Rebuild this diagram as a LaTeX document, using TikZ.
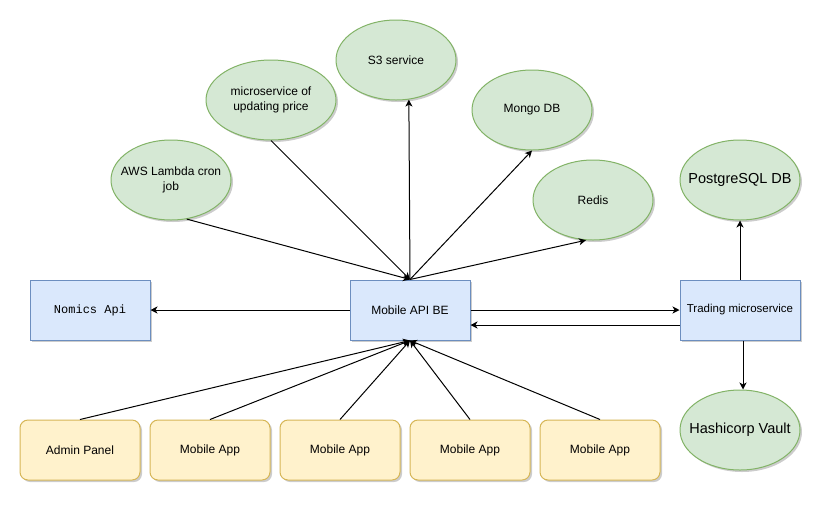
\documentclass[tikz,border=0pt]{standalone}
\usepackage{fontspec}
\setmainfont{Liberation Sans}
\setmonofont{Liberation Mono}
\usetikzlibrary{arrows.meta,shapes.geometric,shadows}

\definecolor{greenfill}{HTML}{D5E8D4}
\definecolor{greenline}{HTML}{82B366}
\definecolor{bluefill}{HTML}{DAE8FC}
\definecolor{blueline}{HTML}{6C8EBF}
\definecolor{yellowfill}{HTML}{FFF2CC}
\definecolor{yellowline}{HTML}{D6B656}

\tikzset{
  shade box/.style={drop shadow={shadow xshift=2pt,shadow yshift=-2pt,opacity=0.2,fill=black}},
  db/.style={ellipse,draw=greenline,fill=greenfill,line width=1pt,minimum width=120pt,
    minimum height=80pt,inner ysep=0pt,inner xsep=-12pt,align=center,
    font=\fontsize{12}{15}\selectfont,shade box},
  svc/.style={rectangle,draw=blueline,fill=bluefill,line width=1pt,minimum width=120pt,
    minimum height=60pt,inner xsep=1pt,font=\fontsize{12}{14}\selectfont,shade box},
  client/.style={rectangle,rounded corners=8pt,draw=yellowline,fill=yellowfill,line width=1pt,
    minimum width=120pt,minimum height=60pt,font=\fontsize{12}{14}\selectfont,shade box},
  conn/.style={line width=1pt,-{Stealth[length=7pt,width=7pt,inset=2pt]}}
}

\begin{document}
\begin{tikzpicture}[x=1pt,y=-1pt]
\fill[white] (0,0) rectangle (832,507);
%-------------- upper services --------------------
\node [db] (AWS) at (171,180) {AWS Lambda cron\\job};
\node [db,minimum width=130pt] (MSP) at (271,100) {microservice of\\updating price};
\node [db] (S3) at (396,60) {S3 service};
\node [db] (MDB) at (532,110) {Mongo DB};
\node [db] (RDS) at (593,200) {Redis};

%--------------- middle row ----------------------
\node [svc,font=\ttfamily\fontsize{12}{14}\selectfont] (NA) at (90,310) {Nomics Api};
\node [svc] (BE) at (410,310) {Mobile API BE};
\node [svc,font=\fontsize{11.5}{14}\selectfont] (TR) at (740,310) {Trading microservice};

%--------------- trading side ----------------------
\node [db,font=\fontsize{14.5}{17}\selectfont] (PG) at (740,180) {PostgreSQL DB};
\node [db,font=\fontsize{14.5}{17}\selectfont] (HV) at (740,430) {Hashicorp Vault};

%--------------- clients ----------------------
\node [client] (AP) at (80,450) {Admin Panel};
\node [client] (MA1) at (210,450) {Mobile App};
\node [client] (MA2) at (340,450) {Mobile App};
\node [client] (MA3) at (470,450) {Mobile App};
\node [client] (MA4) at (600,450) {Mobile App};

%--------------- connectors ----------------------
\path [conn] (AWS.-68) edge (BE.north);
\path [conn] (MSP.south) edge (BE.north);
\path [conn] (BE.north) edge (S3.-72);
\path [conn] (BE.north) edge (MDB.south);
\path [conn] (BE.north) edge (RDS.-100);

\path [conn] (BE.west) edge (NA.east);
\path [conn] (BE.east) edge (TR.west);
\path [conn] ([yshift=-15pt]TR.west) edge ([yshift=-15pt]BE.east);
\path [conn] (TR.north) edge (PG.south);
\path [conn] ([xshift=3pt]TR.south) edge ([xshift=3pt]HV.north);

\path [conn] (AP.north) edge (BE.south);
\path [conn] (MA1.north) edge (BE.south);
\path [conn] (MA2.north) edge (BE.south);
\path [conn] (MA3.north) edge (BE.south);
\path [conn] (MA4.north) edge (BE.south);
\end{tikzpicture}
\end{document}
